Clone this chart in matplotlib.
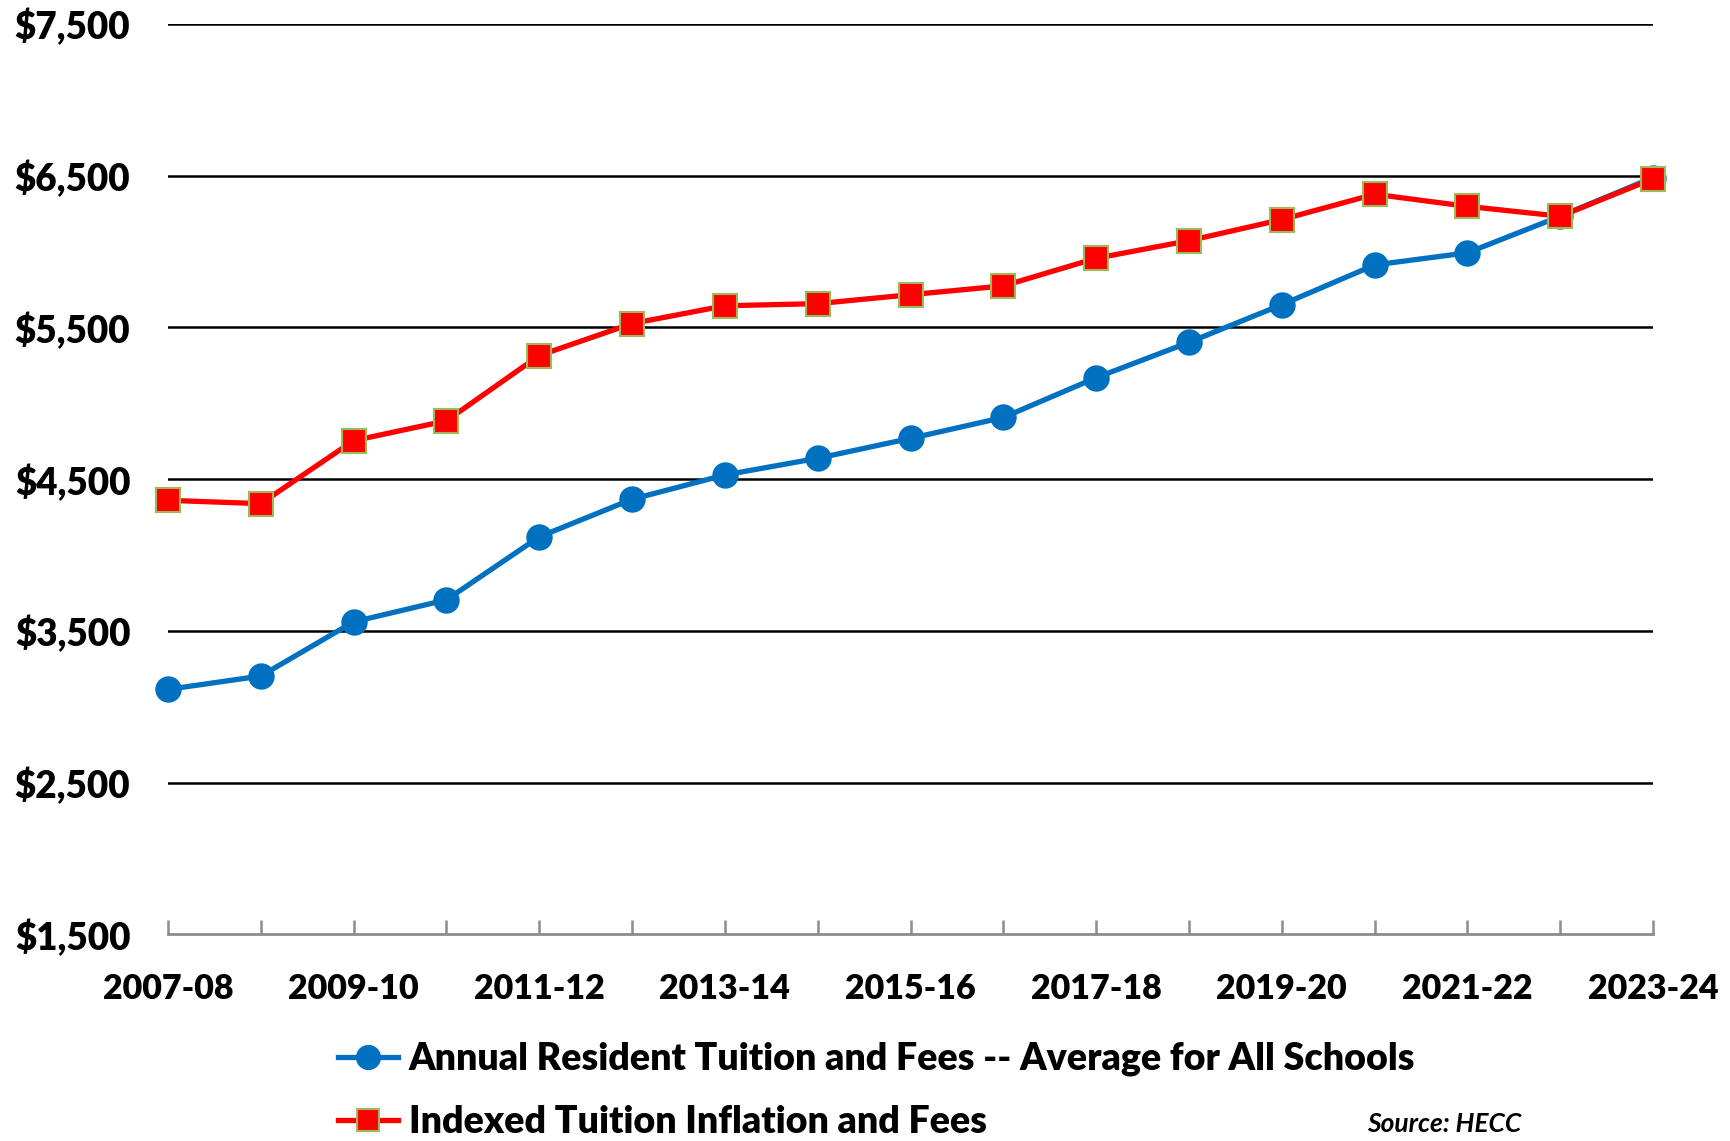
import matplotlib
matplotlib.use("Agg")
import matplotlib.pyplot as plt
from matplotlib.lines import Line2D

years = ["2007-08", "2008-09", "2009-10", "2010-11", "2011-12", "2012-13", "2013-14",
         "2014-15", "2015-16", "2016-17", "2017-18", "2018-19", "2019-20", "2020-21",
         "2021-22", "2022-23", "2023-24"]
tuition = [3115, 3203, 3560, 3705, 4120, 4368, 4528, 4638, 4769, 4907, 5169, 5402,
           5650, 5912, 5992, 6233, 6488]
indexed = [4361, 4339, 4754, 4885, 5315, 5526, 5643, 5657, 5716, 5774, 5956, 6072,
           6211, 6378, 6298, 6233, 6480]
yticks = [1500, 2500, 3500, 4500, 5500, 6500, 7500]
ytick_labels = ["$1,500", "$2,500", "$3,500", "$4,500", "$5,500", "$6,500", "$7,500"]
label_tuition = "Annual Resident Tuition and Fees -- Average for All Schools"
label_indexed = "Indexed Tuition Inflation and Fees"
source = "Source: HECC"

plt.rcParams['font.family'] = ['Lato', 'DejaVu Sans']
W = "heavy"

fig = plt.figure(figsize=(17.31, 11.41), dpi=100)
ax = fig.add_axes([0.097, 0.181, 0.858, 0.798])

x = list(range(len(years)))
l1, = ax.plot(x, tuition, color="#0070C0", lw=3.8, marker="o", markersize=18,
              markerfacecolor="#0070C0", markeredgecolor="#0070C0", clip_on=False, zorder=3)
l2, = ax.plot(x, indexed, color="#FF0000", lw=3.8, marker="s", markersize=17,
              markerfacecolor="#FF0000", markeredgecolor="#9BBB59", markeredgewidth=1.5,
              clip_on=False, zorder=4)

ax.set_xlim(0, len(years) - 1)
ax.set_ylim(1500, 7500)
ax.set_yticks(yticks)
ax.set_yticklabels(ytick_labels, fontsize=26.5, fontweight=W)
ax.set_xticks(x)
ax.set_xticklabels([y if i % 2 == 0 else "" for i, y in enumerate(years)],
                   fontsize=24.5, fontweight=W)
for yv in yticks[1:]:
    ax.axhline(yv, color="black", lw=1.8, zorder=1)
ax.tick_params(axis="y", length=0, pad=27)
ax.tick_params(axis="x", direction="in", length=10, width=1.8, color="#8c8c8c", pad=28)
for s in ["top", "right", "left"]:
    ax.spines[s].set_visible(False)
ax.spines["bottom"].set_color("#8c8c8c")
ax.spines["bottom"].set_linewidth(2)

fig.legend([l1, l2], [label_tuition, label_indexed], loc="upper left",
           bbox_to_anchor=(0.195, 0.087), frameon=False, handlelength=1.6,
           handletextpad=0.3, labelspacing=0.78, borderpad=0, borderaxespad=0,
           prop={"family": "Lato", "weight": W, "size": 27}, markerscale=0.95)
fig.text(0.79, 0.004, source, fontsize=19, fontweight="bold", style="italic", ha="left", va="bottom")

fig.savefig("out.png", dpi=100, facecolor="white")
